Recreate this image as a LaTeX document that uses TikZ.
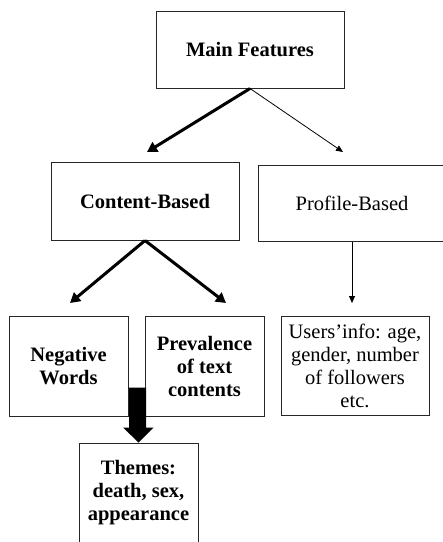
\documentclass[tikz,border=0pt]{standalone}
\usepackage{fontspec}
\setmainfont{Liberation Serif}
\usetikzlibrary{arrows.meta,calc}
\begin{document}
\begin{tikzpicture}[x=1pt,y=-1pt,
  box/.style={draw=black!85, line width=1pt, fill=white, inner sep=0pt, align=center,
    font=\fontsize{20.5}{23}\selectfont},
  thick arrow/.style={line width=3pt, -{Triangle[length=10pt,width=11pt]}},
  thin arrow/.style={line width=0.8pt, -{Triangle[length=7pt,width=6pt]}}]
\useasboundingbox (0,0) rectangle (443,542);
\fill[white] (0,0) rectangle (443,542);
\clip (0,0) rectangle (443,542);
\node[box, minimum width=188pt, minimum height=77pt] (main) at (250,49.5) {\textbf{Main Features}};
\node[box, minimum width=188pt, minimum height=78pt] (content) at (145,201) {\textbf{Content-Based}};
\node[box, minimum width=188pt, minimum height=76pt] (profile) at (352,203) {Profile-Based};
\node[box, minimum width=119pt, minimum height=100pt] (neg) at (68.5,366) {\textbf{Negative}\\\textbf{Words}};
\node[box, minimum width=119pt, minimum height=100pt] (prev) at (204.5,366) {\textbf{Prevalence}\\\textbf{of text}\\\textbf{contents}};
\node[box, minimum width=148pt, minimum height=99pt] (users) at (355,365.5) {Users’info: age,\\gender, number\\of followers\\etc.};
\node[box, minimum width=119pt, minimum height=100pt] (themes) at (138.5,493) {\textbf{Themes:}\\\textbf{death, sex,}\\\textbf{appearance}};
\coordinate (tc) at (147,152);
\coordinate (tp) at (343,152);
\coordinate (tn) at (70,303);
\coordinate (tv) at (226,303);
\coordinate (tu) at (352,303);
\draw[thick arrow] (main.south) -- (tc);
\draw[thin arrow] (main.south) -- (tp);
\draw[thick arrow] (content.south) -- (tn);
\draw[thick arrow] (content.south) -- (tv);
\draw[thin arrow] (profile.south) -- (tu);
% block arrow
\fill[black] ($(themes.north)+(-9.5,-55)$) -- ++(17,0) -- ++(0,40) -- ++(7.5,0)
  -- (themes.north) -- ++(-15.5,-15) -- ++(6,0) -- cycle;
\end{tikzpicture}
\end{document}
